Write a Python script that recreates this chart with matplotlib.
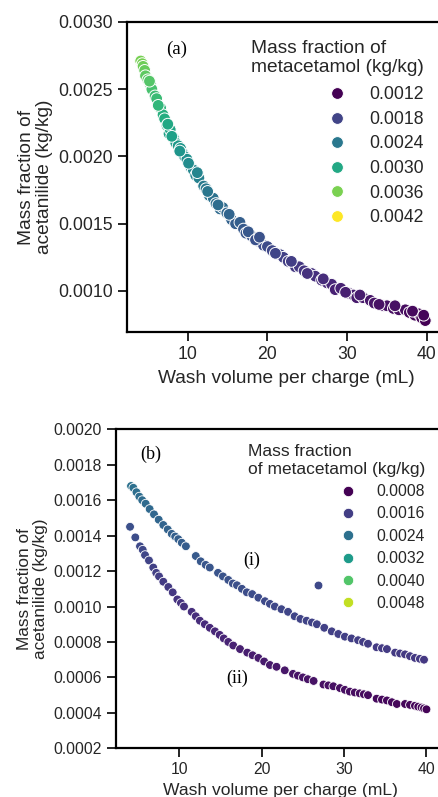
import matplotlib
matplotlib.use("Agg")
import matplotlib.pyplot as plt
from matplotlib.lines import Line2D
from matplotlib.colors import Normalize
import numpy as np

plt.rcParams['font.family'] = ['Liberation Sans', 'DejaVu Sans']

# ---------------- Panel (a) data ----------------
wash_a = [4.1, 4.3, 4.4, 4.6, 4.7, 5.0, 5.35, 5.5, 5.9, 6.1, 6.45, 6.6, 6.9, 7.1, 7.4,
          7.65, 7.8, 8.2, 8.5, 8.8, 9.1, 9.4, 9.6, 9.9, 10.4, 10.7, 11.0, 11.4, 12.0,
          12.3, 12.7, 13.2, 13.55, 14.05, 14.4, 14.9, 15.5, 16.0, 16.55, 17.0, 17.3,
          18.0, 18.85, 19.5, 20.0, 20.6, 21.6, 22.0, 22.6, 23.5, 24.0, 24.6, 25.55,
          26.0, 26.8, 27.5, 28.05, 28.5, 29.2, 30.35, 30.8, 31.2, 32.0, 32.9, 33.4,
          34.55, 35.0, 35.8, 36.5, 37.3, 37.8, 38.5, 39.0, 39.35, 39.8,
          5.2, 6.3, 7.5, 8.0, 9.0, 10.1, 11.2, 12.5, 13.8, 15.2, 17.6, 18.5, 19.0,
          21.0, 23.0, 25.0, 27.0, 29.8, 31.6, 34.0, 36.0, 38.2, 39.6]
acet_a = [2.71, 2.69, 2.67, 2.64, 2.60, 2.57, 2.53, 2.50, 2.45, 2.43, 2.37, 2.36, 2.31,
          2.28, 2.23, 2.17, 2.20, 2.14, 2.10, 2.08, 2.06, 2.02, 2.00, 1.98, 1.92, 1.90,
          1.86, 1.84, 1.78, 1.76, 1.71, 1.69, 1.65, 1.61, 1.62, 1.58, 1.53, 1.50, 1.51,
          1.46, 1.43, 1.41, 1.37, 1.34, 1.33, 1.30, 1.27, 1.25, 1.22, 1.18, 1.18, 1.15,
          1.13, 1.11, 1.08, 1.06, 1.05, 1.01, 1.02, 0.98, 0.97, 0.95, 0.95, 0.93, 0.91,
          0.89, 0.89, 0.87, 0.86, 0.86, 0.84, 0.82, 0.83, 0.80, 0.78,
          2.56, 2.38, 2.24, 2.15, 2.04, 1.95, 1.88, 1.74, 1.64, 1.57, 1.44, 1.38, 1.40,
          1.28, 1.22, 1.13, 1.09, 0.99, 0.97, 0.90, 0.89, 0.85, 0.82]
meta_a = [3.59, 3.57, 3.54, 3.50, 3.45, 3.42, 3.37, 3.33, 3.27, 3.24, 3.17, 3.16, 3.09,
          3.06, 2.99, 2.92, 2.96, 2.88, 2.83, 2.81, 2.78, 2.73, 2.71, 2.69, 2.61, 2.59,
          2.54, 2.51, 2.44, 2.41, 2.35, 2.33, 2.28, 2.23, 2.24, 2.19, 2.13, 2.09, 2.10,
          2.04, 2.00, 1.98, 1.93, 1.89, 1.88, 1.84, 1.80, 1.78, 1.74, 1.69, 1.69, 1.66,
          1.63, 1.61, 1.57, 1.54, 1.53, 1.48, 1.49, 1.45, 1.43, 1.41, 1.41, 1.38, 1.36,
          1.33, 1.33, 1.31, 1.30, 1.30, 1.27, 1.25, 1.26, 1.22, 1.20,
          3.40, 3.18, 3.00, 2.90, 2.76, 2.65, 2.56, 2.39, 2.26, 2.17, 2.02, 1.94, 1.96,
          1.81, 1.74, 1.63, 1.58, 1.46, 1.43, 1.34, 1.33, 1.28, 1.24]
legend_a = [0.0012, 0.0018, 0.0024, 0.0030, 0.0036, 0.0042]

# ---------------- Panel (b) data ----------------
wash_b1 = [4.14, 4.42, 4.8, 5.15, 5.5, 5.92, 6.4, 6.93, 7.5, 8.06, 8.6, 9.08, 9.5, 9.88,
           10.3, 10.8, 12.0, 12.6, 13.2, 13.7, 14.7, 15.3, 15.95, 16.5, 17.0, 17.6,
           18.2, 18.85, 19.6, 20.4, 21.0, 21.6, 22.4, 23.2, 24.0, 24.7, 25.45, 26.1,
           26.7, 27.6, 28.5, 29.3, 30.1, 30.9, 31.7, 32.3, 32.9, 33.95, 34.6, 35.2,
           36.2, 36.8, 37.4, 38.0, 38.6, 39.2, 39.7]
acet_b1 = [1.68, 1.67, 1.645, 1.62, 1.60, 1.58, 1.55, 1.52, 1.49, 1.46, 1.435, 1.41,
           1.395, 1.38, 1.36, 1.34, 1.285, 1.255, 1.235, 1.22, 1.19, 1.17, 1.15, 1.13,
           1.12, 1.10, 1.08, 1.07, 1.05, 1.03, 1.015, 1.00, 0.985, 0.97, 0.945, 0.93,
           0.92, 0.91, 0.90, 0.88, 0.86, 0.845, 0.83, 0.82, 0.81, 0.80, 0.79, 0.77,
           0.765, 0.76, 0.74, 0.735, 0.73, 0.72, 0.71, 0.705, 0.70]
meta_b1 = [2.42, 2.41, 2.39, 2.36, 2.34, 2.32, 2.29, 2.26, 2.23, 2.20, 2.18, 2.15, 2.14,
           2.12, 2.10, 2.08, 2.03, 2.00, 1.98, 1.97, 1.94, 1.92, 1.90, 1.88, 1.87, 1.85,
           1.83, 1.82, 1.80, 1.78, 1.77, 1.75, 1.74, 1.72, 1.70, 1.69, 1.68, 1.67, 1.66,
           1.65, 1.64, 1.63, 1.62, 1.61, 1.60, 1.59, 1.58, 1.57, 1.57, 1.56, 1.55, 1.55,
           1.54, 1.54, 1.53, 1.53, 1.52]
wash_b2 = [4.02, 4.66, 5.23, 5.56, 5.84, 6.32, 6.84, 7.2, 7.54, 8.06, 8.67, 9.2, 9.76,
           10.2, 10.57, 11.5, 12.0, 12.5, 13.1, 13.7, 14.33, 14.9, 15.4, 15.95, 16.55,
           17.37, 18.25, 18.9, 19.6, 20.3, 21.0, 21.8, 22.8, 23.8, 24.4, 25.0, 25.6,
           26.3, 27.5, 28.1, 28.7, 29.5, 30.1, 30.7, 31.3, 31.9, 32.4, 32.9, 33.95,
           34.6, 35.2, 35.8, 36.4, 37.4, 38.0, 38.6, 39.0, 39.4, 39.7, 40.0]
acet_b2 = [1.45, 1.39, 1.34, 1.32, 1.29, 1.26, 1.22, 1.19, 1.17, 1.14, 1.11, 1.08, 1.04,
           1.02, 1.00, 0.97, 0.945, 0.92, 0.90, 0.88, 0.86, 0.84, 0.82, 0.80, 0.78,
           0.76, 0.74, 0.725, 0.71, 0.69, 0.67, 0.66, 0.64, 0.62, 0.61, 0.60, 0.59,
           0.58, 0.56, 0.555, 0.55, 0.54, 0.53, 0.52, 0.515, 0.51, 0.505, 0.50, 0.48,
           0.475, 0.47, 0.46, 0.45, 0.45, 0.445, 0.44, 0.435, 0.43, 0.425, 0.42]
meta_b2 = [1.88, 1.82, 1.77, 1.75, 1.72, 1.69, 1.65, 1.62, 1.60, 1.57, 1.54, 1.51, 1.47,
           1.45, 1.43, 1.40, 1.38, 1.35, 1.33, 1.31, 1.29, 1.27, 1.25, 1.23, 1.21, 1.19,
           1.17, 1.16, 1.14, 1.12, 1.10, 1.09, 1.07, 1.05, 1.04, 1.03, 1.02, 1.01, 0.99,
           0.99, 0.98, 0.97, 0.96, 0.95, 0.95, 0.94, 0.93, 0.93, 0.91, 0.90, 0.90, 0.89,
           0.88, 0.88, 0.87, 0.87, 0.86, 0.86, 0.85, 0.85]
wash_b_out = [26.8]
acet_b_out = [1.12]
meta_b_out = [1.77]
legend_b = [0.0008, 0.0016, 0.0024, 0.0032, 0.0040, 0.0048]

TXT = '#262626'
cmap = plt.get_cmap('viridis')

fig = plt.figure(figsize=(4.38, 7.97), dpi=100)
W, H = 438, 797


def style_axes(ax, tick_size, lw=1.6):
    for s in ['left', 'bottom', 'top']:
        ax.spines[s].set_linewidth(lw)
        ax.spines[s].set_color('black')
    ax.spines['right'].set_visible(False)
    ax.tick_params(axis='both', direction='out', length=6.5, width=1.2,
                   labelsize=tick_size, labelcolor=TXT, color='black', pad=3.5)
    ax.tick_params(top=False, right=False)


# ---------------- Panel (a) ----------------
ax1 = fig.add_axes([127 / W, 1 - 332 / H, (446 - 127) / W, (332 - 22) / H])
norm_a = Normalize(vmin=0.0012, vmax=0.0042)
ax1.scatter(np.array(wash_a), np.array(acet_a) * 1e-3, c=np.array(meta_a) * 1e-3,
            cmap=cmap, norm=norm_a, s=72, edgecolors='white', linewidths=0.7, zorder=3)
ax1.set_xlim(2.38, 42.4)
ax1.set_ylim(0.000695, 0.0030)
ax1.set_xticks([10, 20, 30, 40])
ax1.set_yticks([0.0010, 0.0015, 0.0020, 0.0025, 0.0030])
ax1.yaxis.set_major_formatter(matplotlib.ticker.FormatStrFormatter('%.4f'))
style_axes(ax1, 12.7)
ax1.set_xlabel('Wash volume per charge (mL)', fontsize=13.8, color=TXT, labelpad=5)
ax1.set_ylabel('Mass fraction of\nacetanilide (kg/kg)', fontsize=13.8, color=TXT,
               labelpad=4, linespacing=1.05)
ax1.text(8.66, 0.00280, '(a)', family='Liberation Serif', fontsize=13.7,
         ha='center', va='center', color='black')
handles_a = [Line2D([], [], ls='none', marker='o', markersize=8.5,
                    markerfacecolor=cmap(norm_a(v)), markeredgecolor='white',
                    markeredgewidth=0.7) for v in legend_a]
leg_a = ax1.legend(handles_a, ['%.4f' % v for v in legend_a],
                   title='Mass fraction of\nmetacetamol (kg/kg)',
                   loc='upper right', bbox_to_anchor=(440.5 / W, 1 - 23.5 / H),
                   bbox_transform=fig.transFigure, frameon=False, fontsize=12.7,
                   title_fontsize=13.8, alignment='right', labelspacing=0.43,
                   handletextpad=0.8, borderaxespad=0, borderpad=0.95)
leg_a._legend_box.sep = 0.43 * 12.7 + 2.2
leg_a.get_title().set_multialignment('left')
leg_a.get_title().set_linespacing(1.1)
leg_a.get_title().set_color(TXT)
for t in leg_a.get_texts():
    t.set_color(TXT)

# ---------------- Panel (b) ----------------
ax2 = fig.add_axes([115.7 / W, 1 - 748.3 / H, (446 - 115.7) / W, (748.3 - 429.3) / H])
norm_b = Normalize(vmin=0.0008, vmax=0.0052)
for xs, ys, hs in [(wash_b1, acet_b1, meta_b1), (wash_b2, acet_b2, meta_b2),
                   (wash_b_out, acet_b_out, meta_b_out)]:
    ax2.scatter(np.array(xs), np.array(ys) * 1e-3, c=np.array(hs) * 1e-3, cmap=cmap,
                norm=norm_b, s=40, edgecolors='white', linewidths=0.6, zorder=3)
ax2.set_xlim(2.28, 42.37)
ax2.set_ylim(0.0002, 0.0020)
ax2.set_xticks([10, 20, 30, 40])
ax2.set_yticks(np.round(np.arange(0.0002, 0.00201, 0.0002), 4))
ax2.yaxis.set_major_formatter(matplotlib.ticker.FormatStrFormatter('%.4f'))
style_axes(ax2, 11.3)
ax2.set_xlabel('Wash volume per charge (mL)', fontsize=12.6, color=TXT, labelpad=4.5)
ax2.set_ylabel('Mass fraction of\nacetanilide (kg/kg)', fontsize=12.4, color=TXT,
               labelpad=4, linespacing=1.05)
ax2.text(6.57, 0.00186, '(b)', family='Liberation Serif', fontsize=13,
         ha='center', va='center', color='black')
ax2.text(18.74, 0.001262, '(i)', family='Liberation Serif', fontsize=13,
         ha='center', va='center', color='black')
ax2.text(17.06, 0.000595, '(ii)', family='Liberation Serif', fontsize=13,
         ha='center', va='center', color='black')
handles_b = [Line2D([], [], ls='none', marker='o', markersize=7.5,
                    markerfacecolor=cmap(norm_b(v)), markeredgecolor='white',
                    markeredgewidth=0.6) for v in legend_b]
leg_b = ax2.legend(handles_b, ['%.4f' % v for v in legend_b],
                   title='Mass fraction\nof metacetamol (kg/kg)',
                   loc='upper right', bbox_to_anchor=(434.5 / W, 1 - 434.5 / H),
                   bbox_transform=fig.transFigure, frameon=False, fontsize=11.3,
                   title_fontsize=12.5, alignment='right', labelspacing=0.47,
                   handletextpad=0.8, borderaxespad=0, borderpad=0.62)
leg_b.get_title().set_multialignment('left')
leg_b.get_title().set_linespacing(1.2)
leg_b.get_title().set_color(TXT)
for t in leg_b.get_texts():
    t.set_color(TXT)

fig.savefig('out.png', dpi=100)
